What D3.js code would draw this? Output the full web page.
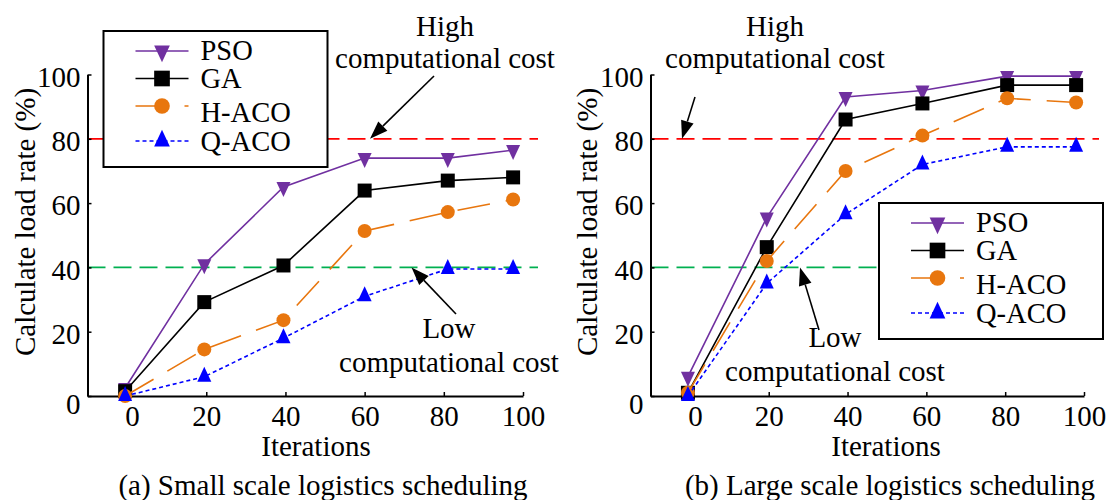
<!DOCTYPE html>
<html><head><meta charset="utf-8">
<script src="https://cdn.jsdelivr.net/npm/d3@7"></script>
<style>
body{margin:0;background:#fff}
svg{display:block}
text{font-family:'Liberation Serif','Times New Roman',serif;fill:#000}
</style>
</head><body>
<svg id="chart" width="1107" height="500"></svg>
<script>
// ---------- data ----------
const iterTicks = [0, 20, 40, 60, 80, 100];
const rateTicks = [0, 20, 40, 60, 80, 100];
const seriesNames = ["PSO", "GA", "H-ACO", "Q-ACO"];

const xSmall   = [-0.5, 19.5, 39.5, 60, 81, 97.5];
const psoSmall = [2.5, 41, 65, 74, 74, 76.5];
const gaSmall  = [1.5, 29.2, 40.6, 63.9, 67, 68];
const hacoSmall = [0, 14.5, 23.6, 51.3, 57.2, 61.1];
const qacoSmall = [0, 6, 18, 31, 39.5, 39.5];

const xLarge   = [-0.5, 19.5, 39.5, 59, 80.5, 98];
const psoLarge = [6, 55.5, 93, 95, 99.5, 99.5];
const gaLarge  = [1, 46.3, 86, 91, 96.7, 96.7];
const hacoLarge = [1, 42, 70, 81, 92.6, 91.3];
const qacoLarge = [0, 35, 56.5, 72, 77.5, 77.5];

const highCost = 80, lowCost = 40;
const captions = ["(a) Small scale logistics scheduling", "(b) Large scale logistics scheduling"];
const xTitle = "Iterations";
const yTitle = "Calculate load rate (%)";

// ---------- styles ----------
const styles = [
  {color: "#7030A0", dash: null, marker: "triDown"},
  {color: "#000000", dash: null, marker: "square"},
  {color: "#E8760E", dash: "33,16", marker: "circle"},
  {color: "#0000FF", dash: "4,3", marker: "triUp"}
];
const FONT = 29;

function markerPath(type, s) {
  const w = 14 * s, h = 15 * s, q = 14 * s;
  if (type === "triDown") return `M${-w/2},${-h/3}L${w/2},${-h/3}L0,${2*h/3}Z`;
  if (type === "triUp") return `M0,${-2*h/3}L${w/2},${h/3}L${-w/2},${h/3}Z`;
  if (type === "square") return `M${-q/2},${-q/2}h${q}v${q}h${-q}Z`;
  const r = 7 * s;
  return `M${r},0A${r},${r},0,1,1,${-r},0A${r},${r},0,1,1,${r},0Z`;
}

const svg = d3.select("#chart");
svg.append("rect").attr("width", 1107).attr("height", 500).attr("fill", "#fff");

function arrow(g, x1, y1, x2, y2) {
  const a = Math.atan2(y2 - y1, x2 - x1), L = 18, W = 6.5;
  const bx = x2 - L * Math.cos(a), by = y2 - L * Math.sin(a);
  g.append("line").attr("x1", x1).attr("y1", y1).attr("x2", bx).attr("y2", by)
    .attr("stroke", "#000").attr("stroke-width", 1.6);
  g.append("path")
    .attr("d", `M${x2},${y2}L${bx + W * Math.sin(a)},${by - W * Math.cos(a)}L${bx - W * Math.sin(a)},${by + W * Math.cos(a)}Z`)
    .attr("fill", "#000");
}

function panel(cfg) {
  const g = svg.append("g");
  const x = d3.scaleLinear().domain([-10, 100]).range(cfg.xr);
  const y = d3.scaleLinear().domain([0, 100]).range([396, 74.5]);

  // threshold lines
  [[highCost, "#FF0000"], [lowCost, "#00B050"]].forEach(([v, c]) => {
    g.append("line").attr("x1", x(-10)).attr("x2", cfg.xr[1] + 15)
      .attr("y1", y(v)).attr("y2", y(v))
      .attr("stroke", c).attr("stroke-width", 1.8).attr("stroke-dasharray", "18,8");
  });

  // axes
  const xa = g.append("g").attr("transform", `translate(0,${y(0)})`)
    .call(d3.axisBottom(x).tickValues(iterTicks).tickSizeInner(-4).tickSizeOuter(0).tickPadding(9));
  const ya = g.append("g").attr("transform", `translate(${x(-10)},0)`)
    .call(d3.axisLeft(y).tickValues(rateTicks).tickSizeInner(-4).tickSizeOuter(0).tickPadding(7));
  [xa, ya].forEach(a => {
    a.select(".domain").attr("stroke", "#000").attr("stroke-width", 2);
    a.selectAll(".tick line").attr("stroke", "#000").attr("stroke-width", 1.5);
    a.selectAll(".tick text").style("font-size", FONT + "px")
      .style("font-family", "'Liberation Serif','Times New Roman',serif").attr("fill", "#000");
  });
  ya.selectAll(".tick text").attr("dy", "0.4em");
  ya.selectAll(".tick").filter(d => d === 0).select("text").attr("dy", "0.62em");
  xa.selectAll(".tick").filter(d => d === 0).select("text").attr("dx", 5);

  // series
  const sets = cfg.series;
  sets.forEach((vals, i) => {
    const st = styles[i];
    const pts = vals.map((v, j) => [x(cfg.xs[j]), y(v)]);
    g.append("path").attr("d", d3.line()(pts)).attr("fill", "none")
      .attr("stroke", st.color).attr("stroke-width", 1.6)
      .attr("stroke-dasharray", st.dash);
    g.selectAll(null).data(pts).enter().append("path")
      .attr("transform", d => `translate(${d[0]},${d[1]})`)
      .attr("d", markerPath(st.marker, 1)).attr("fill", st.color);
  });

  // annotations
  const t = (txt, cx, by) => g.append("text").attr("x", cx).attr("y", by)
    .attr("text-anchor", "middle").style("font-size", FONT + "px").text(txt);
  t("High", cfg.high[0], 36); t("computational cost", cfg.high[0], 68);
  t("Low", cfg.low[0], cfg.low[1]); t("computational cost", cfg.low[0], cfg.low[1] + 34);
  arrow(g, cfg.highArrow[0], cfg.highArrow[1], cfg.highArrow[2], y(highCost));
  arrow(g, cfg.lowArrow[0], cfg.lowArrow[1], cfg.lowArrow[2], y(lowCost));

  // titles
  t(xTitle, cfg.xTitleX, 456);
  t(cfg.caption, cfg.captionX, 495);
  g.append("text").attr("transform", `translate(${cfg.yTitleX},222) rotate(-90)`)
    .attr("text-anchor", "middle").style("font-size", FONT + "px").text(yTitle);

  // legend
  const lg = g.append("g").attr("transform", `translate(${cfg.legend[0]},${cfg.legend[1]})`);
  lg.append("rect").attr("x", 0).attr("y", 0).attr("width", 224).attr("height", 136)
    .attr("fill", "#fff").attr("stroke", "#000").attr("stroke-width", 2);
  const lineY = [20, 47.5, 75, 110], textY = [28.5, 56.5, 90.5, 119.5];
  seriesNames.forEach((name, i) => {
    const st = styles[i];
    lg.append("line").attr("x1", 32).attr("x2", 85).attr("y1", lineY[i]).attr("y2", lineY[i])
      .attr("stroke", st.color).attr("stroke-width", 1.6).attr("stroke-dasharray", st.dash);
    lg.append("path").attr("transform", `translate(58.5,${lineY[i]})`)
      .attr("d", markerPath(st.marker, 1.12)).attr("fill", st.color);
    lg.append("text").attr("x", 97).attr("y", textY[i]).style("font-size", "28.5px").text(name);
  });
}

panel({
  xr: [87.5, 523], xs: xSmall,
  series: [psoSmall, gaSmall, hacoSmall, qacoSmall],
  high: [445], low: [449, 338],
  highArrow: [434, 76, 370], lowArrow: [456, 314, 411.5],
  xTitleX: 316, captionX: 323, caption: captions[0], yTitleX: 35,
  legend: [103.5, 31]
});
panel({
  xr: [650.5, 1084], xs: xLarge,
  series: [psoLarge, gaLarge, hacoLarge, qacoLarge],
  high: [775], low: [835, 347],
  highArrow: [695, 97, 682], lowArrow: [819, 330, 800],
  xTitleX: 886, captionX: 890, caption: captions[1], yTitleX: 597,
  legend: [879, 203]
});
</script>
</body></html>
